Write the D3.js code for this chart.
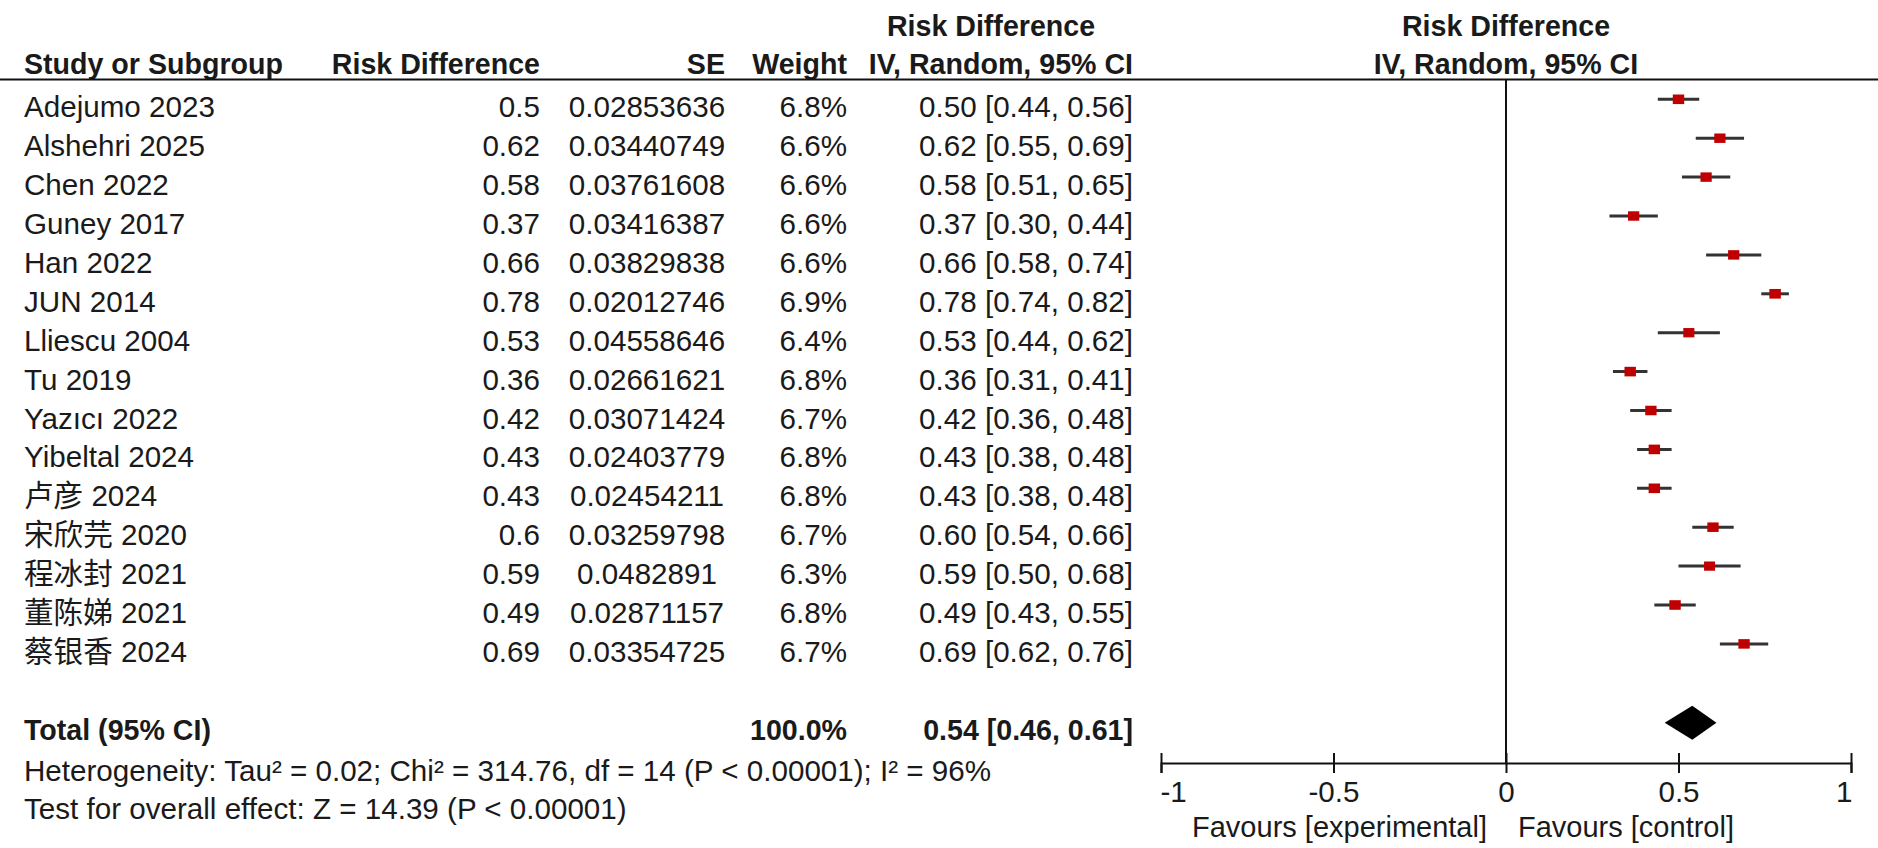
<!DOCTYPE html>
<html>
<head>
<meta charset="utf-8">
<script src="https://cdn.jsdelivr.net/npm/d3@7"></script>
<style>
  body { margin: 0; background: #fff; }
  svg { display: block; font-family: "Liberation Sans", Arial, "Noto Sans CJK SC", sans-serif; }
  .txt { font-size: 29.6px; fill: #1a1a1a; }
  .bold { font-weight: bold; font-size: 28.6px; }
  .fav { font-size: 29px; }
</style>
</head>
<body>
<svg width="1878" height="848"></svg>
<script>
// study rows
var studies = ["Adejumo 2023", "Alshehri 2025", "Chen 2022", "Guney 2017", "Han 2022", "JUN 2014",
  "Lliescu 2004", "Tu 2019", "Yazıcı 2022", "Yibeltal 2024", "卢彦 2024", "宋欣芫 2020",
  "程冰封 2021", "董陈娣 2021", "蔡银香 2024"];
var riskDiff = ["0.5", "0.62", "0.58", "0.37", "0.66", "0.78", "0.53", "0.36", "0.42", "0.43",
  "0.43", "0.6", "0.59", "0.49", "0.69"];
var seValues = ["0.02853636", "0.03440749", "0.03761608", "0.03416387", "0.03829838", "0.02012746",
  "0.04558646", "0.02661621", "0.03071424", "0.02403779", "0.02454211", "0.03259798",
  "0.0482891", "0.02871157", "0.03354725"];
var weights = [6.8, 6.6, 6.6, 6.6, 6.6, 6.9, 6.4, 6.8, 6.7, 6.8, 6.8, 6.7, 6.3, 6.8, 6.7];
var ciLow = [0.44, 0.55, 0.51, 0.30, 0.58, 0.74, 0.44, 0.31, 0.36, 0.38, 0.38, 0.54, 0.50, 0.43, 0.62];
var ciHigh = [0.56, 0.69, 0.65, 0.44, 0.74, 0.82, 0.62, 0.41, 0.48, 0.48, 0.48, 0.66, 0.68, 0.55, 0.76];

// pooled
var totalEst = 0.54, totalLow = 0.46, totalHigh = 0.61;
var totalWeight = "100.0%";
var heterogeneity = "Heterogeneity: Tau² = 0.02; Chi² = 314.76, df = 14 (P < 0.00001); I² = 96%";
var overallTest = "Test for overall effect: Z = 14.39 (P < 0.00001)";

// axis
var tickValues = [-1, -0.5, 0, 0.5, 1];
var favourLeft = "Favours [experimental]";
var favourRight = "Favours [control]";

var svg = d3.select("svg");
svg.append("rect").attr("width", 1878).attr("height", 848).attr("fill", "#fff");

var x = d3.scaleLinear().domain([-1, 1]).range([1161, 1851]);
// row index -> text baseline
var rowY = d3.scaleLinear().domain([0, 1]).range([117.3, 156.2]);
var boxW = d3.scaleSqrt().domain([0, 6.9]).range([0, 11.5]);

var fmt = d3.format(".2f");
var rows = studies.map(function(s, i) {
  return {name: s, rd: riskDiff[i], se: seValues[i], w: weights[i], lo: ciLow[i], hi: ciHigh[i],
    est: +riskDiff[i]};
});

function txt(g, str, xx, yy, anchor, bold) {
  return g.append("text")
    .attr("class", "txt" + (bold ? " bold" : ""))
    .attr("x", xx).attr("y", yy)
    .attr("text-anchor", anchor)
    .text(str);
}

// headers
var head = svg.append("g");
txt(head, "Risk Difference", 991, 36, "middle", true);
txt(head, "Risk Difference", 1506, 36, "middle", true);
txt(head, "Study or Subgroup", 24, 74, "start", true);
txt(head, "Risk Difference", 540, 74, "end", true);
txt(head, "SE", 725, 74, "end", true);
txt(head, "Weight", 847, 74, "end", true);
txt(head, "IV, Random, 95% CI", 1133, 74, "end", true);
txt(head, "IV, Random, 95% CI", 1506, 74, "middle", true);
head.append("line")
  .attr("x1", 0).attr("x2", 1878).attr("y1", 79.5).attr("y2", 79.5)
  .attr("stroke", "#111").attr("stroke-width", 2);

// table rows
var tbl = svg.append("g");
rows.forEach(function(d, i) {
  var y = rowY(i);
  txt(tbl, d.name, 24, y, "start");
  txt(tbl, d.rd, 540, y, "end");
  txt(tbl, d.se, 647, y, "middle");
  txt(tbl, d.w.toFixed(1) + "%", 847, y, "end");
  txt(tbl, fmt(d.est) + " [" + fmt(d.lo) + ", " + fmt(d.hi) + "]", 1133, y, "end");
});

// total row
var yt = rowY(16);
txt(tbl, "Total (95% CI)", 24, yt, "start", true);
txt(tbl, totalWeight, 847, yt, "end", true);
txt(tbl, fmt(totalEst) + " [" + fmt(totalLow) + ", " + fmt(totalHigh) + "]", 1133, yt, "end", true);
txt(tbl, heterogeneity, 24, 781, "start");
txt(tbl, overallTest, 24, 819, "start");

// plot
var axisY = 763;
var plot = svg.append("g");

plot.append("line")
  .attr("x1", x(0)).attr("x2", x(0))
  .attr("y1", 79.5).attr("y2", axisY)
  .attr("stroke", "#111").attr("stroke-width", 2);

var marks = plot.selectAll(".study").data(rows).enter().append("g").attr("class", "study");
marks.append("line")
  .attr("x1", function(d) { return x(d.lo); })
  .attr("x2", function(d) { return x(d.hi); })
  .attr("y1", function(d, i) { return rowY(i) - 18; })
  .attr("y2", function(d, i) { return rowY(i) - 18; })
  .attr("stroke", "#333").attr("stroke-width", 3);
marks.append("rect")
  .attr("x", function(d) { return x(d.est) - boxW(d.w) / 2; })
  .attr("y", function(d, i) { return rowY(i) - 18 - boxW(d.w) * 0.42; })
  .attr("width", function(d) { return boxW(d.w); })
  .attr("height", function(d) { return boxW(d.w) * 0.84; })
  .attr("fill", "#c00000");

// diamond
var yc = yt - 17;
plot.append("path")
  .attr("d", "M" + x(totalLow) + "," + yc + "L" + x(totalEst) + "," + (yc - 17) +
    "L" + x(totalHigh) + "," + yc + "L" + x(totalEst) + "," + (yc + 17) + "Z")
  .attr("fill", "#000");

// x axis
var ax = plot.append("g")
  .attr("transform", "translate(0," + axisY + ")")
  .call(d3.axisBottom(x).tickValues(tickValues).tickSizeOuter(0).tickSize(10)
    .tickFormat(function(d) { return String(d); }));
ax.select(".domain").attr("stroke", "#111").attr("stroke-width", 2);
ax.selectAll(".tick line").attr("y1", -10).attr("y2", 10).attr("stroke", "#111").attr("stroke-width", 2);
ax.selectAll(".tick text")
  .attr("class", "txt")
  .attr("font-family", null).attr("font-size", null)
  .attr("fill", null)
  .attr("y", 39).attr("dy", null)
  .attr("text-anchor", function(d, i) { return i === 0 ? "start" : (i === tickValues.length - 1 ? "end" : "middle"); })
  .attr("x", function(d, i) { return i === 0 ? -1 : (i === tickValues.length - 1 ? 1 : 0); });
ax.attr("font-family", null).attr("font-size", null);

txt(plot, favourLeft, x(0) - 19, 837, "end").classed("fav", true);
txt(plot, favourRight, x(0) + 12, 837, "start").classed("fav", true);
</script>
</body>
</html>
